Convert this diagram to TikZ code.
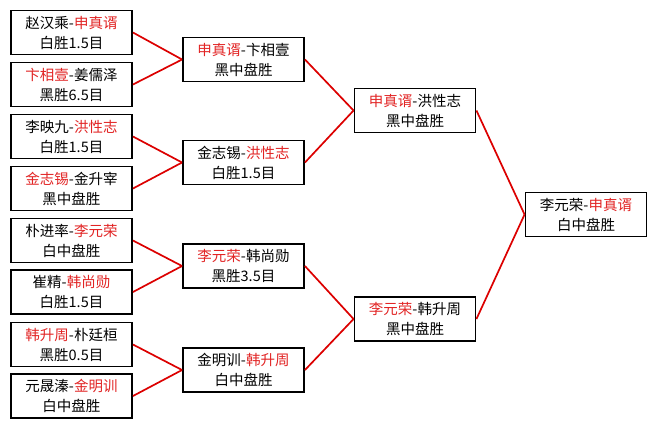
\documentclass[tikz,border=0pt]{standalone}
\usepackage{fontspec}
\setmainfont{Noto Sans CJK SC}
\definecolor{wred}{RGB}{226,36,36}
\definecolor{lred}{RGB}{220,0,0}
\newcommand{\rd}[1]{\textcolor{wred}{#1}}
\begin{document}
\begin{tikzpicture}[x=1pt,y=-1pt,
  game/.style={draw=black,line width=1.9pt,fill=white,minimum width=121pt,minimum height=44pt,inner sep=0pt,align=center,font=\fontsize{14.5}{20}\selectfont},
  link/.style={draw=lred,line width=1.7pt}]
\useasboundingbox (0,0) rectangle (658,429);
\fill[white] (0,0) rectangle (658,429);
% round 1
\node[game] (a1) at (71.5,32.5) {赵汉乘-\rd{申真谞}\\白胜1.5目};
\node[game] (a2) at (71.5,84.5) {\rd{卞相壹}-姜儒泽\\黑胜6.5目};
\node[game] (a3) at (71.5,136.5) {李映九-\rd{洪性志}\\白胜1.5目};
\node[game] (a4) at (71.5,188.5) {\rd{金志锡}-金升宰\\黑中盘胜};
\node[game] (a5) at (71.5,240.5) {朴进率-\rd{李元荣}\\白中盘胜};
\node[game] (a6) at (71.5,292) {崔精-\rd{韩尚勋}\\白胜1.5目};
\node[game] (a7) at (71.5,344.5) {\rd{韩升周}-朴廷桓\\黑胜0.5目};
\node[game] (a8) at (71.5,396) {元晟溱-\rd{金明训}\\白中盘胜};
% round 2
\node[game] (b1) at (243.5,59.5) {\rd{申真谞}-卞相壹\\黑中盘胜};
\node[game] (b2) at (243.5,162.5) {金志锡-\rd{洪性志}\\白胜1.5目};
\node[game] (b3) at (243.5,266) {\rd{李元荣}-韩尚勋\\黑胜3.5目};
\node[game] (b4) at (243.5,370) {金明训-\rd{韩升周}\\白中盘胜};
% semifinals
\node[game] (c1) at (415,110.5) {\rd{申真谞}-洪性志\\黑中盘胜};
\node[game] (c2) at (415,319) {\rd{李元荣}-韩升周\\黑中盘胜};
% final
\node[game] (d1) at (586,214.5) {李元荣-\rd{申真谞}\\白中盘胜};
% connectors
\draw[link] (a1.east) -- (b1.west);
\draw[link] (a2.east) -- (b1.west);
\draw[link] (a3.east) -- (b2.west);
\draw[link] (a4.east) -- (b2.west);
\draw[link] (a5.east) -- (b3.west);
\draw[link] (a6.east) -- (b3.west);
\draw[link] (a7.east) -- (b4.west);
\draw[link] (a8.east) -- (b4.west);
\draw[link] (b1.east) -- (c1.west);
\draw[link] (b2.east) -- (c1.west);
\draw[link] (b3.east) -- (c2.west);
\draw[link] (b4.east) -- (c2.west);
\draw[link] (c1.east) -- (d1.west);
\draw[link] (c2.east) -- (d1.west);
\end{tikzpicture}
\end{document}
